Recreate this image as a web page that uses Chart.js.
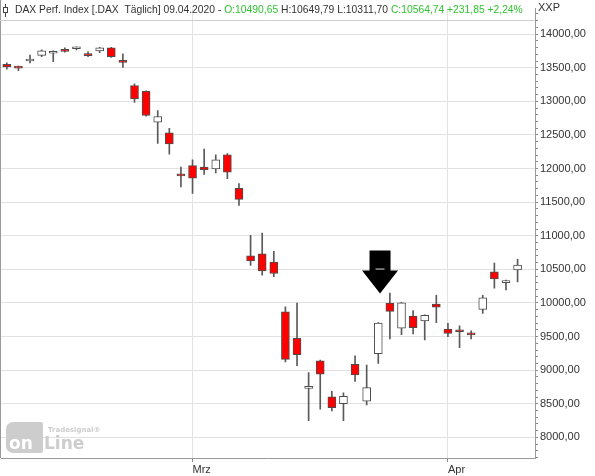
<!DOCTYPE html>
<html>
<head>
<meta charset="utf-8">
<script src="https://cdn.jsdelivr.net/npm/chart.js@4.4.1/dist/chart.umd.min.js"></script>
<style>
  html, body { margin: 0; padding: 0; background: #fff; }
  canvas { display: block; }
</style>
</head>
<body>
<canvas id="chart" width="595" height="476"></canvas>
<script>
// DAX daily candles, 07.02.2020 - 09.04.2020
const dates = ['07.02.','10.02.','11.02.','12.02.','13.02.','14.02.','17.02.','18.02.','19.02.','20.02.','21.02.',
  '24.02.','25.02.','26.02.','27.02.','28.02.','02.03.','03.03.','04.03.','05.03.','06.03.','09.03.','10.03.','11.03.',
  '12.03.','13.03.','16.03.','17.03.','18.03.','19.03.','20.03.','23.03.','24.03.','25.03.','26.03.','27.03.','30.03.',
  '31.03.','01.04.','02.04.','03.04.','06.04.','07.04.','08.04.','09.04.'];
const opens = [13552,13505,13600,13684,13716,13755,13782,13690,13750,13796,13610,
  13236,13150,12690,12530,11905,12044,12020,11996,12204,11704,10701,10730,10609,
  9869,9474,8730,9139,8603,8501,9085,8540,9245,10000,9625,9805,9733,
  9985,9610,9580,9535,9902,10462,10302,10490.65];
const highs = [13572,13525,13689,13765,13752,13796,13810,13737,13805,13805,13708,
  13260,13155,12861,12600,12020,12131,12288,12204,12223,11777,11007,11041,10769,
  9942,10000,8964,9149,8686,8661,9212,9076,9708,10146,10010,9888,9825,
  10112,9698,9660,9587,10112,10594,10340,10649.79];
const lows = [13479,13455,13572,13664,13591,13733,13766,13664,13723,13655,13504,
  12983,12780,12375,12215,11727,11631,11912,11934,11850,11450,10559,10413,10390,
  9124,9066,8248,8419,8394,8248,8832,8482,9099,9464,9528,9538,9450,
  9708,9499,9333,9464,9844,10219,10194,10311.70];
const closes = [13514,13494,13628,13750,13745,13744,13784,13681,13795,13664,13579,
  13035,12790,12775,12367,11890,11858,11985,12128,11945,11542,10625,10475,10439,
  9161,9232,8742,8939,8442,8610,8929,8741,9700,9874,10001,9633,9816,
  9936,9545,9571,9526,10075,10357,10332.89,10564.74];

const monthStarts = ['02.03.', '01.04.'];
const monthNames = ['Mrz', 'Apr'];

// arrow marker over the 24.03. candle
const arrowDate = '24.03.';
const arrowValue = 10140;

const yMin = 7693, yMax = 14380;
const green = '#2fc42f';
const fmt = v => v.toFixed(2).replace('.', ',');

const labels = dates.concat(['']);
const last = dates.length - 1;

const overlay = {
  id: 'overlay',
  afterDraw(chart) {
    const ctx = chart.ctx;
    const a = chart.chartArea;
    const x = chart.scales.x, y = chart.scales.y;
    ctx.save();

    // frame
    ctx.strokeStyle = '#999';
    ctx.lineWidth = 1;
    ctx.beginPath();
    ctx.moveTo(0.5, 0); ctx.lineTo(0.5, a.bottom);
    ctx.stroke();
    ctx.strokeStyle = '#cfcfcf';
    ctx.beginPath();
    ctx.moveTo(0, 20.5); ctx.lineTo(a.right, 20.5);
    ctx.stroke();

    // header icon
    ctx.strokeStyle = '#444';
    ctx.beginPath();
    ctx.moveTo(5.5, 4); ctx.lineTo(5.5, 17);
    ctx.stroke();
    ctx.fillStyle = '#fff';
    ctx.fillRect(3.5, 7.5, 4, 5);
    ctx.strokeRect(3.5, 7.5, 4, 5);

    // header text
    const chg = closes[last] - closes[last - 1];
    const pct = chg / closes[last - 1] * 100;
    const parts = [
      ['DAX Perf. Index [.DAX  T\u00e4glich] ' + dates[last] + '2020 - ', '#333'],
      ['O:' + fmt(opens[last]), green],
      [' H:' + fmt(highs[last]) + ' L:' + fmt(lows[last]) + ' ', '#333'],
      ['C:' + fmt(closes[last]) + ' +' + fmt(chg) + ' +' + fmt(pct) + '%', green]
    ];
    ctx.font = '11px "Liberation Sans"';
    const full = parts.map(p => p[0]).join('');
    const fs = 11 * 508 / ctx.measureText(full).width;
    ctx.font = fs.toFixed(2) + 'px "Liberation Sans"';
    ctx.textBaseline = 'middle';
    ctx.textAlign = 'left';
    let tx = 15;
    parts.forEach(p => {
      ctx.fillStyle = p[1];
      ctx.fillText(p[0], tx, 10.5);
      tx += ctx.measureText(p[0]).width;
    });

    ctx.font = '11px "Liberation Sans"';
    ctx.fillStyle = '#333';
    ctx.fillText('XXP', 538, 8);

    // arrow marker
    const i = dates.indexOf(arrowDate);
    const ax = x.getPixelForValue(i) + (x.getPixelForValue(i + 1) - x.getPixelForValue(i)) * 0.15;
    const ay = y.getPixelForValue(arrowValue);
    ctx.fillStyle = '#000';
    ctx.beginPath();
    ctx.moveTo(ax - 10.5, ay - 43);
    ctx.lineTo(ax + 10.5, ay - 43);
    ctx.lineTo(ax + 10.5, ay - 23);
    ctx.lineTo(ax + 18, ay - 23);
    ctx.lineTo(ax, ay);
    ctx.lineTo(ax - 18, ay - 23);
    ctx.lineTo(ax - 10.5, ay - 23);
    ctx.closePath();
    ctx.fill();
    ctx.strokeStyle = '#ddd';
    ctx.beginPath();
    ctx.moveTo(ax - 4.5, ay - 24.5); ctx.lineTo(ax + 4.5, ay - 24.5);
    ctx.stroke();

    // watermark
    ctx.fillStyle = '#cdcdcd';
    ctx.beginPath();
    ctx.roundRect(6, 422, 37, 31, [7, 2, 2, 7]);
    ctx.fill();
    ctx.font = 'bold 17px "DejaVu Sans"';
    ctx.textBaseline = 'alphabetic';
    ctx.fillStyle = '#fff';
    ctx.fillText('on', 9, 449);
    ctx.fillStyle = '#cdcdcd';
    ctx.fillText('Line', 44, 449);
    ctx.font = 'bold 7px "DejaVu Sans"';
    ctx.fillText('Tradesignal\u00ae', 48, 432);

    ctx.restore();
  }
};

Chart.defaults.font.family = '"Liberation Sans"';
Chart.defaults.font.size = 11;
Chart.defaults.color = '#333';

new Chart(document.getElementById('chart'), {
  type: 'bar',
  data: {
    labels: labels,
    datasets: [
      {
        label: 'Body',
        data: opens.map((o, i) => [o, closes[i]]),
        backgroundColor: opens.map((o, i) => closes[i] < o ? '#ff0000' : '#ffffff'),
        borderColor: '#4d4d4d',
        borderWidth: 1,
        borderSkipped: false,
        barThickness: 8,
        minBarLength: 2,
        grouped: false,
        order: 0
      },
      {
        label: 'Range',
        data: lows.map((l, i) => [l, highs[i]]),
        backgroundColor: '#5a5a5a',
        borderWidth: 0,
        barThickness: 1,
        grouped: false,
        order: 1
      }
    ]
  },
  options: {
    responsive: false,
    animation: false,
    layout: { padding: { left: 1, top: 0, right: 0, bottom: 0 } },
    plugins: { legend: { display: false }, tooltip: { enabled: false } },
    scales: {
      x: {
        type: 'category',
        offset: true,
        grid: {
          offset: false,
          color: c => monthStarts.includes(labels[c.index]) ? '#e2e2e2' : 'transparent',
          tickColor: c => monthStarts.includes(labels[c.index]) ? '#888' : 'transparent',
          tickLength: 4
        },
        border: { color: '#999' },
        ticks: {
          autoSkip: false,
          maxRotation: 0,
          align: 'start',
          padding: 1,
          callback: (v, i) => {
            const k = monthStarts.indexOf(labels[i]);
            return k >= 0 ? monthNames[k] : '';
          }
        },
        afterFit: s => { s.height = 18; }
      },
      y: {
        position: 'right',
        min: yMin,
        max: yMax,
        grid: {
          color: c => c.tick && c.tick.value % 500 === 0 ? '#e2e2e2' : 'transparent',
          tickColor: '#888',
          tickLength: 3
        },
        border: { color: '#999' },
        ticks: {
          stepSize: 100,
          includeBounds: false,
          autoSkip: false,
          padding: 2,
          callback: v => v % 500 === 0 ? fmt(v) : ''
        },
        afterFit: s => { s.width = 60; }
      }
    }
  },
  plugins: [overlay]
});
</script>
</body>
</html>
